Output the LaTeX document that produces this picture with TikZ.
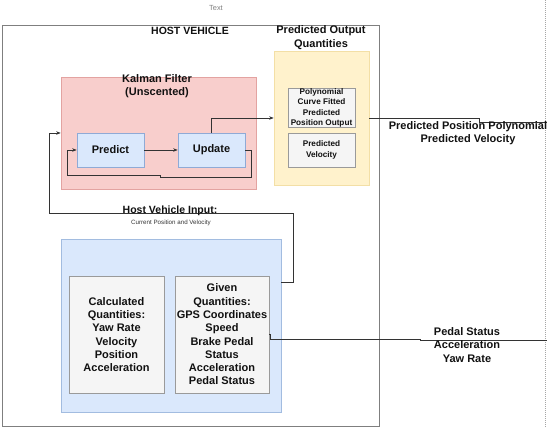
\documentclass[tikz,border=0pt]{standalone}
\usepackage{fontspec}
\setmainfont{Liberation Sans}
\usetikzlibrary{arrows.meta,calc}
\definecolor{pinkfill}{HTML}{F8CECC}
\definecolor{pinkdraw}{HTML}{E3A3A1}
\definecolor{bluefill}{HTML}{DAE8FC}
\definecolor{bluedraw}{HTML}{A2BCE0}
\definecolor{bluedark}{HTML}{8FAAD6}
\definecolor{grayfill}{HTML}{F5F5F5}
\definecolor{graydraw}{HTML}{9A9A9A}
\definecolor{yelfill}{HTML}{FFF2CC}
\definecolor{yeldraw}{HTML}{F3DFA6}
\definecolor{hostdraw}{HTML}{7F7F7F}
\definecolor{linecol}{HTML}{333333}
\definecolor{txt}{HTML}{111111}
\begin{document}
\begin{tikzpicture}[x=1pt,y=-1pt,
  box/.style={draw, inner sep=0pt, line width=0.7pt, align=center, text=txt},
  pinkbox/.style={box, fill=pinkfill, draw=pinkdraw},
  bluebox/.style={box, fill=bluefill, draw=bluedark},
  bigblue/.style={box, fill=bluefill, draw=bluedraw},
  graybox/.style={box, fill=grayfill, draw=graydraw},
  yelbox/.style={box, fill=yelfill, draw=yeldraw},
  hostbox/.style={box, draw=hostdraw, fill=white},
  lbl/.style={inner sep=0pt, align=center, text=txt},
  bigtxt/.style={font=\bfseries\fontsize{11}{13.3}\selectfont},
  smalltxt/.style={font=\bfseries\fontsize{8.2}{10.3}\selectfont},
  conn/.style={draw=linecol, line width=0.6pt},
  arr/.style={conn, -{Stealth[length=4.5pt,width=3.5pt]}}
]
\useasboundingbox (0,0) rectangle (547,427);

% dotted right edge
\coordinate (dtop) at (545.5,0);
\coordinate (dbot) at (545.5,427);
\draw[draw=gray!70, line width=0.6pt, dash pattern=on 1pt off 1pt] (dtop) -- (dbot);

\node[lbl, text=gray, font=\fontsize{7.4}{9}\selectfont] (textlbl) at (216,8) {Text};

% host vehicle
\node[hostbox, minimum width=377pt, minimum height=401pt] (host) at (190.5,225.5) {};
\node[lbl, font=\bfseries\fontsize{10.5}{12}\selectfont] (hosttitle) at (190,30.5) {HOST VEHICLE};

% predicted output
\node[lbl, bigtxt] (predtitle) at (321,37.5) {Predicted Output\\Quantities};
\node[yelbox, minimum width=95pt, minimum height=134pt] (yellow) at (321.5,118) {};
\node[graybox, smalltxt, minimum width=67pt, minimum height=34pt] (poly) at (321.5,108)
  {Polynomial\\Curve Fitted\\Predicted\\Position Output};
\node[graybox, smalltxt, minimum width=67pt, minimum height=34pt] (vel) at (321.5,150)
  {Predicted\\Velocity};

% Kalman filter
\node[pinkbox, minimum width=195pt, minimum height=112pt] (kalman) at (158.5,133) {};
\node[lbl, bigtxt] (kaltitle) at (157,86) {Kalman Filter\\(Unscented)};
\node[bluebox, bigtxt, minimum width=67pt, minimum height=34pt] (predict) at (110.5,150) {Predict};
\node[bluebox, bigtxt, minimum width=67pt, minimum height=34pt] (update) at (211.5,150) {Update};

% inputs
\node[bigblue, minimum width=220pt, minimum height=173pt] (inbox) at (171,325.5) {};
\node[graybox, bigtxt, minimum width=95pt, minimum height=117pt] (calc) at (116.5,334.5)
  {Calculated\\Quantities:\\Yaw Rate\\Velocity\\Position\\Acceleration};
\node[graybox, bigtxt, minimum width=94pt, minimum height=117pt] (given) at (222,334.5)
  {Given\\Quantities:\\GPS Coordinates\\Speed\\Brake Pedal\\Status\\Acceleration\\Pedal Status};

% connectors
\draw[arr] (predict) -- (update);
\draw[arr] (update.north) |- (yellow.west);

\coordinate (l1) at (251,150);
\coordinate (l2) at (251,177);
\coordinate (l3) at (160,177);
\coordinate (l4) at (160,175.5);
\coordinate (l5) at (67,175.5);
\coordinate (l6) at (67,150);
\draw[arr] (update.east) -- (l1) -- (l2) -- (l3) -- (l4) -- (l5) -- (l6) -- (predict.west);

\coordinate (i0) at (inbox.east |- 0,282);
\coordinate (i1) at (293,282);
\coordinate (i2) at (293,213);
\coordinate (i3) at (49,213);
\coordinate (i4) at (49,133);
\draw[arr] (i0) -- (i1) -- (i2) -- (i3) -- (i4) -- (kalman.west);

\coordinate (o1) at (479,118);
\coordinate (o2) at (479,122);
\coordinate (oend) at (547,122);
\draw[conn] (yellow.east) -- (o1) -- (o2) -- (oend);

\coordinate (p0) at (270,334.5);
\coordinate (p1) at (270,339);
\coordinate (p2) at (420,339);
\coordinate (p3) at (420,340.5);
\coordinate (pend) at (547,340.5);
\draw[conn] (given.east) -- (p0) -- (p1) -- (p2) -- (p3) -- (pend);

% labels
\node[lbl, font=\bfseries\fontsize{10.5}{12}\selectfont] (hvi) at (170,211) {Host Vehicle Input:};
\node[lbl, font=\fontsize{6.2}{7}\selectfont, text=txt!85] (hvisub) at (171,222.5) {Current Position and Velocity};
\node[lbl, bigtxt] (outlbl) at (468,133.5) {Predicted Position Polynomial\\Predicted Velocity};
\node[lbl, bigtxt] (pedlbl) at (467,345) {Pedal Status\\Acceleration\\Yaw Rate};
\end{tikzpicture}
\end{document}
